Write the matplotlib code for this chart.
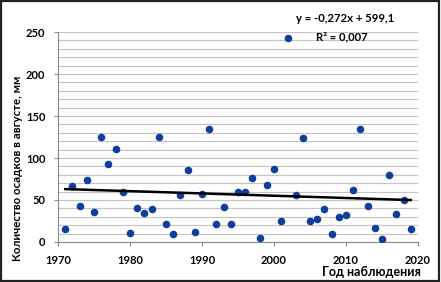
import matplotlib.pyplot as plt
import numpy as np
from matplotlib.patches import Rectangle

# Данные: осадки в августе по годам (мм)
years = [1971, 1972, 1973, 1974, 1975, 1976, 1977, 1978, 1979, 1980,
         1981, 1982, 1983, 1984, 1985, 1986, 1987, 1988, 1989, 1990,
         1991, 1992, 1993, 1994, 1995, 1996, 1997, 1998, 1999, 2000,
         2001, 2002, 2003, 2004, 2005, 2006, 2007, 2008, 2009, 2010,
         2011, 2012, 2013, 2014, 2015, 2016, 2017, 2018, 2019]
precip = [16, 67, 43, 74, 36, 125, 93, 111, 59, 11,
          40, 34, 39, 125, 22, 9, 56, 86, 12, 57,
          134, 22, 42, 22, 60, 59, 76, 5, 68, 87,
          25, 243, 56, 124, 25, 27, 39, 10, 30, 32,
          62, 134, 43, 17, 4, 80, 33, 50, 15]

# Линия тренда (из уравнения на графике)
slope = -0.272
intercept = 599.1
r2 = 0.007

plt.rcParams['font.family'] = ['Lato', 'DejaVu Sans']

fig = plt.figure(figsize=(4.41, 2.82), dpi=100)
ax = fig.add_axes([58 / 441, 1 - 242 / 282, 360 / 441, 210 / 282])

ax.set_xlim(1970, 2020)
ax.set_ylim(0, 250)
ax.set_yticks(np.arange(0, 251, 10), minor=True)
ax.set_yticks(np.arange(0, 251, 50))
ax.set_xticks(np.arange(1970, 2021, 10))
ax.grid(True, which='both', axis='y', color='#c4c4c4', lw=0.8)
ax.set_axisbelow(True)

ax.scatter(years, precip, s=30, color='#0e3f9e', zorder=3, linewidths=0)

x_fit = np.array([min(years), max(years)])
ax.plot(x_fit, slope * x_fit + intercept, color='black', lw=1.8, zorder=4)

for side in ['top', 'right']:
    ax.spines[side].set_visible(False)
for side in ['left', 'bottom']:
    ax.spines[side].set_color('#888888')
    ax.spines[side].set_linewidth(0.8)

ax.tick_params(axis='both', which='major', length=3, width=0.8, color='#888888',
               labelsize=8, pad=6)
ax.tick_params(axis='y', which='minor', length=0)
for lbl in ax.get_xticklabels() + ax.get_yticklabels():
    lbl.set_fontweight('bold')

fig.text(18 / 441, 1 - 168 / 282, 'Количество осадков в августе, мм', rotation=90,
         ha='center', va='center', fontsize=8.3, fontweight='bold')
fig.text(421 / 441, 1 - 272 / 282, 'Год наблюдения', ha='right', va='center',
         fontsize=9, fontweight='bold')

fig.text(345 / 441, 1 - 19 / 282, f'y = {slope:.3f}x + {intercept:.1f}'.replace('.', ','),
         ha='center', va='center', fontsize=8.2, fontweight='bold')
fig.text(342 / 441, 1 - 37 / 282, f'R² = {r2:.3f}'.replace('.', ','), ha='center',
         va='center', fontsize=8.2, fontweight='bold')

fig.patches.append(Rectangle((0.002, 0.003), 0.994, 0.993, transform=fig.transFigure,
                             fill=False, edgecolor='#222222', lw=1.6))

fig.savefig('out.png', dpi=100)
